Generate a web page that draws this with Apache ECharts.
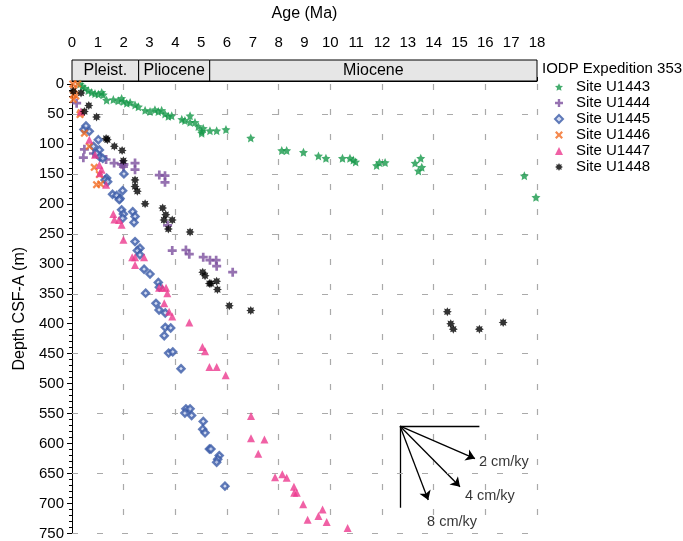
<!DOCTYPE html>
<html>
<head>
<meta charset="utf-8">
<script src="https://cdn.jsdelivr.net/npm/echarts@6/dist/echarts.min.js"></script>
<style>
    body { margin: 0; background: #fff; }
    #main { width: 683px; height: 541px; }
</style>
</head>
<body>
<div id="main"></div>
<script>
// ---- data (age Ma, depth m) ----
var siteNames = ['Site U1443', 'Site U1444', 'Site U1445', 'Site U1446', 'Site U1447', 'Site U1448'];

var u1443 = [[0.31,0],[0.4,4],[0.5,7],[0.63,11],[0.76,14],[0.89,16],[1.02,17],[1.15,14],[1.21,18],[1.34,27],[1.6,26],[1.79,28],[1.92,24],[1.99,29],[2.12,32],[2.25,31],[2.44,35],[2.57,38],[2.83,44],[3.02,46],[3.21,43],[3.34,46],[3.47,44],[3.6,50],[3.73,54],[3.86,53],[4.25,59],[4.37,61],[4.57,53],[4.57,64],[4.76,64],[4.89,71],[5.02,79],[5.02,82],[5.08,74],[5.34,78],[5.6,78],[5.96,76],[6.92,90],[8.12,111],[8.31,111],[8.96,114],[9.54,120],[9.83,124],[10.47,124],[10.76,124],[10.89,127],[10.98,130],[11.79,136],[11.9,131],[12.12,131],[13.28,132],[13.5,124],[13.54,139],[13.41,145],[17.51,153],[17.96,189]];
var u1444 = [[0.18,32],[0.48,109],[0.44,123],[0.83,116],[1.1,122],[1.32,126],[1.63,132],[1.92,134],[2.01,134],[1.99,138],[2.44,132],[2.44,143],[3.38,152],[3.6,153],[3.6,164],[3.7,236],[3.88,278],[4.41,277],[4.54,284],[5.08,289],[5.34,294],[5.58,294],[5.6,304],[6.22,314]];
var u1445 = [[0.46,76],[0.54,70],[0.67,79],[1.02,93],[0.83,104],[1.06,110],[0.95,116],[1.08,122],[1.19,124],[1.34,157],[1.28,160],[1.38,163],[2.01,150],[1.57,184],[1.73,186],[1.86,191],[1.96,178],[1.83,193],[1.92,210],[1.99,217],[1.96,224],[2.35,213],[2.44,221],[2.4,231],[2.44,263],[2.63,274],[2.53,278],[2.63,285],[2.79,309],[3.02,317],[3.34,331],[3.38,339],[2.85,349],[3.25,366],[3.37,377],[3.61,382],[3.61,406],[3.82,407],[3.57,420],[3.74,449],[3.9,447],[4.22,475],[4.41,542],[4.57,542],[4.37,549],[4.63,553],[5.08,563],[5.06,576],[5.15,582],[5.32,609],[5.38,609],[5.7,620],[5.64,626],[5.6,631],[5.92,671]];
var u1446 = [[0.03,0],[0.22,0],[0.09,9],[0.05,18],[0.15,20],[0.05,26],[0.35,48],[0.31,51],[0.48,82],[0.67,104],[0.86,139],[1.06,151],[0.95,168],[1.11,167]];
var u1447 = [[0.34,46],[0.67,93],[0.89,118],[1.06,135],[1.15,143],[1.08,149],[1.32,168],[1.6,217],[1.64,226],[1.82,227],[1.92,235],[1.99,260],[2.33,289],[2.44,289],[2.79,289],[2.44,302],[3.37,340],[3.5,340],[3.64,340],[3.69,349],[3.57,366],[3.76,380],[3.88,388],[4.54,398],[5.05,439],[5.15,446],[5.32,472],[5.6,472],[5.95,486],[6.93,554],[6.93,591],[7.45,593],[7.21,617],[7.86,656],[8.14,651],[8.31,657],[8.59,672],[8.6,682],[8.7,682],[8.95,701],[9.7,710],[9.54,721],[9.12,727],[9.86,731],[10.67,741]];
var u1448 = [[0.05,12],[0.35,15],[0.65,36],[0.48,46],[0.95,55],[1.32,91],[1.37,93],[1.64,104],[1.94,111],[1.99,128],[2.44,160],[2.44,171],[2.53,179],[2.83,200],[3.51,207],[3.63,218],[3.56,227],[3.88,227],[3.73,242],[4.57,247],[5.06,314],[5.15,320],[5.32,333],[5.38,333],[5.6,329],[5.63,343],[6.09,370],[6.92,378],[14.53,380],[14.66,400],[14.76,409],[15.77,409],[16.69,398]];

// epochs: start, end, name
var epochStart = [0, 2.58, 5.33];
var epochEnd = [2.58, 5.33, 18];
var epochNames = ['Pleist.', 'Pliocene', 'Miocene'];

// dashed depth lines
var gridDepths = [50, 150, 250, 350, 450, 550, 650, 750];

// sedimentation rate key
var rateOrigin = [12.70, 571];
var rateFrame = [[[12.70, 571], [15.77, 571]], [[12.70, 571], [12.70, 707]]];
var rateEnds = [[15.60, 625], [15.02, 672], [13.79, 694]];
var rateLabels = ['2 cm/ky', '4 cm/ky', '8 cm/ky'];
var rateLabelPos = [[15.75, 630], [15.21, 687], [14.71, 731]];

var font = 'Liberation Sans, Arial, sans-serif';

// star shaped symbol path
function starPath(n, r1, r2) {
    var s = 'path://';
    for (var i = 0; i < n * 2; i++) {
        var r = i % 2 === 0 ? r1 : r2;
        var a = Math.PI * i / n - Math.PI / 2;
        s += (i === 0 ? 'M' : 'L') + (10 + r * Math.cos(a)).toFixed(2) + ',' + (10 + r * Math.sin(a)).toFixed(2) + ' ';
    }
    return s + 'Z';
}
var plusPath = 'path://M3.5,0 L6.5,0 L6.5,3.5 L10,3.5 L10,6.5 L6.5,6.5 L6.5,10 L3.5,10 L3.5,6.5 L0,6.5 L0,3.5 L3.5,3.5 Z';
var crossPath = 'path://M0,2 L2,0 L5,3 L8,0 L10,2 L7,5 L10,8 L8,10 L5,7 L2,10 L0,8 L3,5 Z';

var siteData = [u1443, u1444, u1445, u1446, u1447, u1448];
var siteSymbols = [starPath(5, 10, 4.8), plusPath, 'diamond', crossPath, 'triangle', starPath(8, 10, 6)];
var siteSizes = [9, 9, 7, 8, 8, 9];
var siteColors = ['#17994a', '#7c4f9e', '#3b5ba8', '#f26b22', '#ec3a8e', '#000000'];

var myChart = echarts.init(document.getElementById('main'));

var series = [];
for (var i = 0; i < siteNames.length; i++) {
    var st = { color: siteColors[i] };
    if (siteSymbols[i] === 'diamond') {
        st = { color: '#c9d3ee', borderColor: siteColors[i], borderWidth: 2.4 };
    }
    series.push({
        name: siteNames[i],
        type: 'scatter',
        xAxisIndex: 1,
        yAxisIndex: 1,
        symbol: siteSymbols[i],
        symbolSize: siteSizes[i],
        itemStyle: st,
        data: siteData[i],
        z: 5
    });
}

// epoch band
series.push({
    type: 'custom',
    xAxisIndex: 0,
    yAxisIndex: 0,
    silent: true,
    data: epochStart.map(function (s, k) { return [s, epochEnd[k]]; }),
    renderItem: function (params, api) {
        var p0 = api.coord([api.value(0), 1]);
        var p1 = api.coord([api.value(1), 0]);
        return {
            type: 'rect',
            shape: { x: p0[0], y: p0[1], width: p1[0] - p0[0], height: p1[1] - p0[1] },
            style: { fill: '#e6e6e6', stroke: '#000', lineWidth: 1 },
            textContent: { style: { text: epochNames[params.dataIndex], fontSize: 16, fill: '#000', fontFamily: font } },
            textConfig: { position: 'inside' }
        };
    }
});

// dashed depth lines
series.push({
    type: 'scatter',
    xAxisIndex: 1,
    yAxisIndex: 1,
    data: [],
    silent: true,
    markLine: {
        silent: true,
        symbol: 'none',
        label: { show: false },
        lineStyle: { color: '#aaaaaa', type: [6, 19], width: 1.2 },
        data: gridDepths.map(function (d) { return { yAxis: d }; })
    }
});

// rate key
series.push({
    type: 'lines',
    coordinateSystem: 'cartesian2d',
    xAxisIndex: 1,
    yAxisIndex: 1,
    silent: true,
    lineStyle: { color: '#000', width: 1.3, opacity: 1 },
    data: rateFrame.map(function (c) { return { coords: c }; })
});
series.push({
    type: 'lines',
    coordinateSystem: 'cartesian2d',
    xAxisIndex: 1,
    yAxisIndex: 1,
    silent: true,
    symbol: ['none', 'arrow'],
    symbolSize: 9,
    lineStyle: { color: '#000', width: 1.3, opacity: 1 },
    data: rateEnds.map(function (e) { return { coords: [rateOrigin, e] }; })
});
series.push({
    type: 'scatter',
    xAxisIndex: 1,
    yAxisIndex: 1,
    silent: true,
    symbolSize: 0,
    data: rateLabelPos.map(function (p, k) {
        return {
            value: p,
            name: rateLabels[k],
            label: { align: k === 2 ? 'center' : 'left' }
        };
    }),
    label: {
        show: true,
        formatter: '{b}',
        position: [0, 0],
        verticalAlign: 'middle',
        fontSize: 14.5,
        color: '#000',
        fontFamily: font
    }
});

option = {
    animation: false,
    textStyle: { fontFamily: font },
    title: {
        text: 'IODP Expedition 353',
        left: 542,
        top: 61,
        padding: 0,
        textStyle: { fontSize: 15, fontWeight: 'normal', color: '#000', fontFamily: font }
    },
    legend: {
        data: siteNames,
        orient: 'vertical',
        left: 554,
        top: 79,
        padding: 0,
        itemWidth: 8,
        itemHeight: 8,
        itemGap: 0,
        textStyle: { fontSize: 15, color: '#000', lineHeight: 16, padding: [0, 0, 0, 8], fontFamily: font }
    },
    grid: [
        { left: 72, top: 60, width: 465, height: 21 },
        { left: 72, top: 84, width: 465, height: 451 }
    ],
    xAxis: [{
        gridIndex: 0,
        type: 'value',
        position: 'top',
        min: 0,
        max: 18,
        interval: 1,
        name: 'Age (Ma)',
        nameLocation: 'middle',
        nameGap: 38,
        nameTextStyle: { fontSize: 16, color: '#000', fontFamily: font },
        axisLine: { show: true, lineStyle: { color: '#000', width: 1 } },
        axisTick: { show: true, length: 4, lineStyle: { color: '#000' } },
        minorTick: { show: true, splitNumber: 5, length: 2, lineStyle: { color: '#000' } },
        axisLabel: { fontSize: 15, color: '#000', margin: 10, fontFamily: font },
        splitLine: { show: false }
    }, {
        gridIndex: 1,
        type: 'value',
        min: 0,
        max: 18,
        interval: 2,
        axisLine: { show: false },
        axisTick: { show: false },
        axisLabel: { show: false },
        splitLine: { show: true, lineStyle: { color: '#aaaaaa', type: [6, 19], width: 1.2 } }
    }],
    yAxis: [{
        gridIndex: 0,
        type: 'value',
        min: 0,
        max: 1,
        show: false
    }, {
        gridIndex: 1,
        type: 'value',
        inverse: true,
        min: 0,
        max: 750,
        interval: 50,
        name: 'Depth CSF-A (m)',
        nameLocation: 'middle',
        nameGap: 44,
        nameTextStyle: { fontSize: 16, color: '#000', fontFamily: font },
        axisLine: { show: true, lineStyle: { color: '#000', width: 1 } },
        axisTick: { show: true, length: 5, lineStyle: { color: '#000' } },
        minorTick: { show: true, splitNumber: 5, length: 3, lineStyle: { color: '#000' } },
        axisLabel: { fontSize: 15, color: '#000', margin: 8, fontFamily: font },
        splitLine: { show: false }
    }],
    series: series
};
myChart.setOption(option);
</script>
</body>
</html>
